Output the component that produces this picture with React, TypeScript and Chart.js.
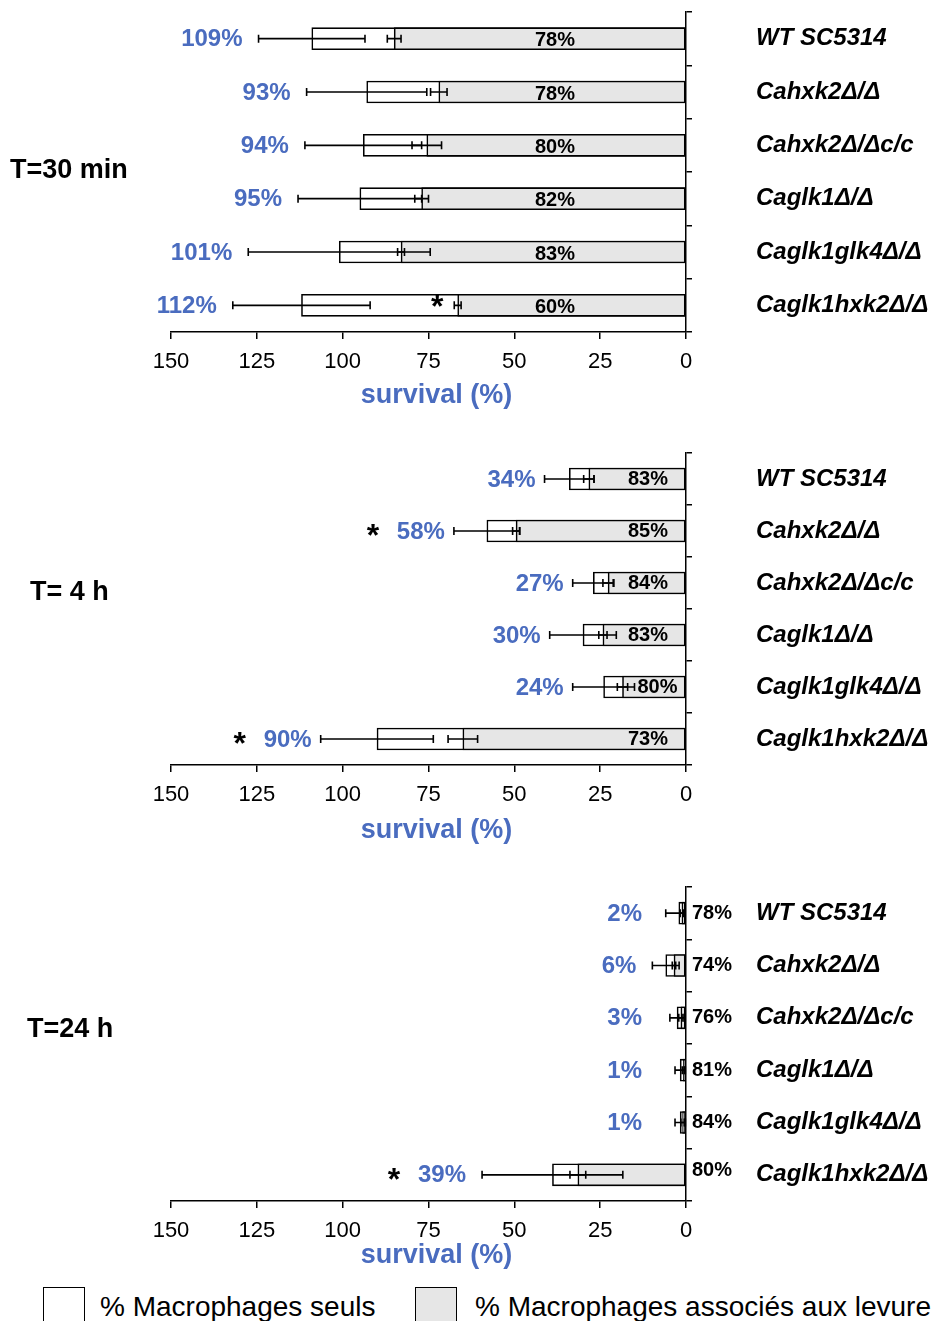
import React, { useEffect, useRef } from "react";
import { Chart, registerables } from "chart.js";

Chart.register(...registerables);

// ---------- DATA ----------
const categories = [
  "WT SC5314",
  "Cahxk2Δ/Δ",
  "Cahxk2Δ/Δc/c",
  "Caglk1Δ/Δ",
  "Caglk1glk4Δ/Δ",
  "Caglk1hxk2Δ/Δ",
];
const xTickValues = [0, 25, 50, 75, 100, 125, 150];
const seriesNames = ["% Macrophages seuls", "% Macrophages associés aux levures"];

// T=30 min
const alone30 = [109, 93, 94, 95, 101, 112];
const alone30Err = [15.5, 17.5, 17, 18, 26.5, 20];
const assoc30 = [85, 72, 75.5, 77, 83, 66.5];
const assoc30Err = [2, 2.4, 4.3, 2, 1, 1];
const alone30Labels = [109, 93, 94, 95, 101, 112];
const assoc30Labels = [78, 78, 80, 82, 83, 60];
const stars30 = [false, false, false, false, false, true];

// T=4 h
const alone4 = [34, 58, 27, 30, 24, 90];
const alone4Err = [7.2, 9.6, 6, 9.7, 9, 16.4];
const assoc4 = [28.3, 49.5, 22.7, 24.2, 18.5, 65];
const assoc4Err = [1.5, 1, 1.5, 1.2, 1.5, 4.3];
const alone4Labels = [34, 58, 27, 30, 24, 90];
const assoc4Labels = [83, 85, 84, 83, 80, 73];
const stars4 = [false, true, false, false, false, true];

// T=24 h
const alone24 = [2.1, 5.9, 2.6, 1.7, 1.7, 38.9];
const alone24Err = [3.8, 3.9, 2.1, 1.5, 1.5, 20.5];
const assoc24 = [1.2, 3.5, 1.5, 0.8, 1, 31.5];
const assoc24Err = [0.5, 0.5, 0.6, 0.3, 0.5, 2.3];
const alone24Labels = [2, 6, 3, 1, 1, 39];
const assoc24Labels = [78, 74, 76, 81, 84, 80];
const stars24 = [false, false, false, false, false, true];

// ---------- STYLE / LAYOUT ----------
const FONT = '"Liberation Sans", Arial, Helvetica, sans-serif';
const BLUE = "#4a6cbf";
const GRAY = "#e6e6e6";

const panels = [
  {
    title: "T=30 min",
    alone: alone30, aloneErr: alone30Err, assoc: assoc30, assocErr: assoc30Err,
    aloneLabels: alone30Labels, assocLabels: assoc30Labels, stars: stars30,
    layout: { top: 0, height: 420, areaTop: 12, areaBottom: 332, titleX: 10, titleY: 171, axisTitleY: 396, grayMode: "center", starMode: "gray", gap: 16, maxRight: 9999, grayDy: 2 },
  },
  {
    title: "T= 4 h",
    alone: alone4, aloneErr: alone4Err, assoc: assoc4, assocErr: assoc4Err,
    aloneLabels: alone4Labels, assocLabels: assoc4Labels, stars: stars4,
    layout: { top: 430, height: 440, areaTop: 453, areaBottom: 765, titleX: 30, titleY: 593, axisTitleY: 831, grayMode: "right", starMode: "label", gap: 9, maxRight: 9999, grayDy: 0 },
  },
  {
    title: "T=24 h",
    alone: alone24, aloneErr: alone24Err, assoc: assoc24, assocErr: assoc24Err,
    aloneLabels: alone24Labels, assocLabels: assoc24Labels, stars: stars24,
    layout: { top: 870, height: 410, areaTop: 887, areaBottom: 1201, titleX: 27, titleY: 1030, axisTitleY: 1256, grayMode: "outside", starMode: "label", gap: 16, maxRight: 642, grayDy: 0 },
  },
];

const decorPlugin: any = {
  id: "decor",
  afterDatasetsDraw(chart: any) {
    const cfg = chart.options.plugins.decor;
    if (!cfg) return;
    const p = cfg.panel;
    const L = p.layout;
    const ctx = chart.ctx;
    const xs = chart.scales.x;
    const ys = chart.scales.y;
    const area = chart.chartArea;
    const grayBars = chart.getDatasetMeta(0).data;
    const whiteBars = chart.getDatasetMeta(1).data;
    ctx.save();
    ctx.strokeStyle = "#000";
    ctx.lineWidth = 1.6;

    const drawErr = (vals: number[], errs: number[], bars: any[]) => {
      vals.forEach((v, i) => {
        const y = bars[i].y;
        const hi = xs.getPixelForValue(v + errs[i]);
        const loV = v - errs[i];
        const lo = xs.getPixelForValue(Math.max(loV, 0));
        ctx.beginPath();
        ctx.moveTo(hi, y);
        ctx.lineTo(lo, y);
        ctx.moveTo(hi, y - 4);
        ctx.lineTo(hi, y + 4);
        if (loV >= 0) {
          ctx.moveTo(lo, y - 4);
          ctx.lineTo(lo, y + 4);
        }
        ctx.stroke();
      });
    };
    drawErr(p.alone, p.aloneErr, whiteBars);
    drawErr(p.assoc, p.assocErr, grayBars);

    // category labels (right of the y axis)
    ctx.font = `italic bold 24px ${FONT}`;
    ctx.fillStyle = "#000";
    ctx.textAlign = "left";
    ctx.textBaseline = "middle";
    categories.forEach((c, i) => {
      ctx.fillText(c, area.right + 70, ys.getPixelForValue(i));
    });

    // blue labels + stars
    p.aloneLabels.forEach((lab: number, i: number) => {
      const y = whiteBars[i].y;
      ctx.font = `bold 24px ${FONT}`;
      ctx.fillStyle = BLUE;
      ctx.textAlign = "right";
      ctx.textBaseline = "middle";
      const right = Math.min(xs.getPixelForValue(p.alone[i] + p.aloneErr[i]) - L.gap, L.maxRight);
      const txt = `${lab}%`;
      ctx.fillText(txt, right, y + 1);
      if (p.stars[i]) {
        let sx: number;
        let sy: number;
        if (L.starMode === "gray") {
          sx = xs.getPixelForValue(p.assoc[i] + p.assocErr[i]) - 17;
          sy = y - 4;
        } else {
          const w = ctx.measureText(txt).width;
          sx = right - w - 24;
          sy = y - 1;
        }
        ctx.font = `bold 32px ${FONT}`;
        ctx.fillStyle = "#000";
        ctx.textAlign = "center";
        ctx.textBaseline = "alphabetic";
        ctx.fillText("*", sx, sy + 16);
      }
    });

    // black labels
    ctx.font = `bold 20px ${FONT}`;
    ctx.fillStyle = "#000";
    ctx.textBaseline = "middle";
    p.assocLabels.forEach((lab: number, i: number) => {
      const y = grayBars[i].y + L.grayDy;
      const txt = `${lab}%`;
      if (L.grayMode === "center") {
        ctx.textAlign = "center";
        ctx.fillText(txt, area.right - 131, y);
      } else if (L.grayMode === "right") {
        const w = ctx.measureText(txt).width;
        let right = area.right - 18;
        const errLo = xs.getPixelForValue(Math.max(p.alone[i] - p.aloneErr[i], 0));
        if (right - w < errLo + 3) right = errLo + 3 + w;
        ctx.textAlign = "right";
        ctx.fillText(txt, right, y);
      } else {
        ctx.textAlign = "left";
        const dy = i === p.assocLabels.length - 1 ? -4 : 0;
        ctx.fillText(txt, area.right + 6, y + dy);
      }
    });

    // panel title
    ctx.font = `bold 27px ${FONT}`;
    ctx.textAlign = "left";
    ctx.fillStyle = "#000";
    ctx.fillText(p.title, L.titleX, L.titleY - L.top);

    // axis title
    ctx.font = `bold 27px ${FONT}`;
    ctx.textAlign = "center";
    ctx.fillStyle = BLUE;
    ctx.fillText("survival (%)", (area.left + area.right) / 2 + 8, L.axisTitleY - L.top);
    ctx.restore();
  },
};

function PanelChart({ panel }: { panel: any }) {
  const ref = useRef<HTMLCanvasElement>(null);
  const L = panel.layout;
  useEffect(() => {
    if (!ref.current) return;
    const chart = new Chart(ref.current, {
      type: "bar",
      data: {
        labels: categories,
        datasets: [
          {
            label: seriesNames[1],
            data: panel.assoc,
            backgroundColor: GRAY,
            borderColor: "#000",
            borderWidth: 1.6,
            borderSkipped: false,
            barThickness: 22,
            grouped: false,
            order: 0,
          },
          {
            label: seriesNames[0],
            data: panel.alone,
            backgroundColor: "#ffffff",
            borderColor: "#000",
            borderWidth: 1.6,
            borderSkipped: false,
            barThickness: 22,
            grouped: false,
            order: 1,
          },
        ],
      },
      options: {
        indexAxis: "y",
        responsive: false,
        animation: false,
        layout: { padding: { top: L.areaTop - L.top, left: 171, right: 0, bottom: 0 } },
        plugins: {
          legend: { display: false },
          tooltip: { enabled: false },
          decor: { panel },
        } as any,
        scales: {
          x: {
            type: "linear",
            position: "bottom",
            reverse: true,
            min: 0,
            max: 150,
            afterBuildTicks: (scale: any) => {
              scale.ticks = xTickValues.map((v) => ({ value: v }));
            },
            afterFit: (scale: any) => {
              scale.height = L.height - (L.areaBottom - L.top);
            },
            ticks: {
              color: "#000",
              font: { family: FONT, size: 22 },
              padding: 10,
              maxRotation: 0,
              autoSkip: false,
            },
            grid: {
              drawOnChartArea: false,
              drawTicks: true,
              tickLength: 7,
              color: "#000",
              lineWidth: 1.5,
            },
            border: { display: true, color: "#000", width: 1.5 },
          },
          y: {
            type: "category",
            position: "right",
            offset: true,
            afterFit: (scale: any) => {
              scale.width = 931 - 686;
            },
            ticks: { display: false, padding: 0 },
            grid: {
              offset: true,
              drawOnChartArea: false,
              drawTicks: true,
              tickLength: 6,
              color: "#000",
              lineWidth: 1.5,
            },
            border: { display: true, color: "#000", width: 1.5 },
          },
        },
      } as any,
      plugins: [decorPlugin],
    });
    return () => chart.destroy();
  }, []);
  return (
    <canvas
      ref={ref}
      width={931}
      height={L.height}
      style={{ position: "absolute", left: 0, top: L.top, width: 931, height: L.height }}
    />
  );
}

export default function App() {
  return (
    <div
      style={{
        position: "absolute",
        left: 0,
        top: 0,
        width: 931,
        height: 1321,
        overflow: "hidden",
        background: "#fff",
        fontFamily: FONT,
      }}
    >
      {panels.map((p, i) => (
        <PanelChart key={i} panel={p} />
      ))}
      <div style={{ position: "absolute", left: 43, top: 1287, width: 40, height: 50, border: "1.5px solid #000", background: "#fff" }} />
      <div style={{ position: "absolute", left: 100, top: 1291, fontSize: 28, lineHeight: "32px", color: "#000", whiteSpace: "nowrap" }}>
        {seriesNames[0]}
      </div>
      <div style={{ position: "absolute", left: 415, top: 1287, width: 40, height: 50, border: "1.5px solid #000", background: GRAY }} />
      <div style={{ position: "absolute", left: 475, top: 1291, fontSize: 28, lineHeight: "32px", color: "#000", whiteSpace: "nowrap" }}>
        {seriesNames[1]}
      </div>
    </div>
  );
}
